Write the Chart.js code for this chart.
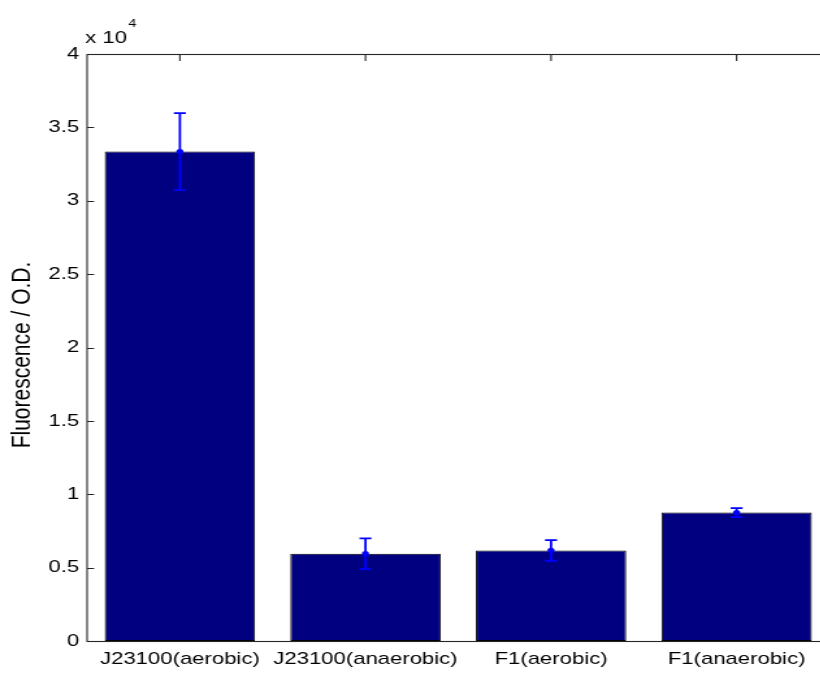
<!DOCTYPE html>
<html>
<head>
<meta charset="utf-8">
<script src="https://cdn.jsdelivr.net/npm/chart.js@4/dist/chart.umd.min.js"></script>
<style>
  html, body { margin: 0; padding: 0; background: #fff; overflow: hidden; }
  #wrap { position: relative; width: 820px; height: 673px; overflow: hidden; }
  /* the figure is rendered narrow and widened horizontally */
  #c { display: block; transform-origin: 0 0; transform: scaleX(1.3); }
</style>
</head>
<body>
<div id="wrap"><canvas id="c" width="647" height="673"></canvas></div>
<script>
// Strains / growth conditions
const categories = ['J23100(aerobic)', 'J23100(anaerobic)', 'F1(aerobic)', 'F1(anaerobic)'];
// Mean fluorescence normalised by optical density
const fluorescence = [33350, 5950, 6170, 8750];
// Standard deviation of each mean
const errors = [2620, 1050, 700, 310];
// Y axis ticks (shown in units of 10^4)
const yTicks = [0, 5000, 10000, 15000, 20000, 25000, 30000, 35000, 40000];

const FONT = 'Liberation Sans, Arial, Helvetica, sans-serif';
const AXIS_COLOR = '#262626';
const TICK_H = 5.4;   // length of ticks on the vertical axes
const TICK_V = 7;     // length of ticks on the horizontal axes

// Box frame and inward-pointing ticks, drawn beneath the bars
const framePlugin = {
  id: 'frame',
  beforeDatasetsDraw(chart) {
    const { ctx, chartArea: a, scales: { x, y } } = chart;
    ctx.save();
    ctx.strokeStyle = AXIS_COLOR;
    ctx.lineWidth = 1.1;
    ctx.beginPath();
    yTicks.forEach(v => {
      const py = Math.round(y.getPixelForValue(v)) + 0.5;
      ctx.moveTo(a.left, py); ctx.lineTo(a.left + TICK_H, py);
      ctx.moveTo(a.right, py); ctx.lineTo(a.right - TICK_H, py);
    });
    categories.forEach((c, i) => {
      const px = x.getPixelForValue(i);
      ctx.moveTo(px, a.top); ctx.lineTo(px, a.top + TICK_V);
      ctx.moveTo(px, a.bottom); ctx.lineTo(px, a.bottom - TICK_V);
    });
    ctx.stroke();
    ctx.restore();
  },
  afterDatasetsDraw(chart) {
    const { ctx, chartArea: a, scales: { x, y } } = chart;
    ctx.save();
    // outer box
    ctx.strokeStyle = AXIS_COLOR;
    ctx.lineWidth = 1.1;
    ctx.strokeRect(a.left, Math.round(a.top) + 0.5,
                   a.right - a.left, Math.round(a.bottom - a.top));

    // error bars
    ctx.strokeStyle = '#0000ff';
    ctx.fillStyle = '#0000ff';
    ctx.lineWidth = 1.8;
    const cap = 4.6;
    fluorescence.forEach((v, i) => {
      const px = x.getPixelForValue(i);
      const pm = y.getPixelForValue(v);
      const pt = y.getPixelForValue(v + errors[i]);
      const pb = y.getPixelForValue(v - errors[i]);
      ctx.beginPath();
      ctx.moveTo(px, pt); ctx.lineTo(px, pb);
      ctx.moveTo(px - cap, pt); ctx.lineTo(px + cap, pt);
      ctx.moveTo(px - cap, pb); ctx.lineTo(px + cap, pb);
      ctx.stroke();
      ctx.beginPath();
      ctx.arc(px, pm, 2.7, 0, Math.PI * 2);
      ctx.fill();
    });

    // exponent label above the y axis
    ctx.fillStyle = '#000';
    ctx.textBaseline = 'alphabetic';
    ctx.textAlign = 'left';
    ctx.font = '17px ' + FONT;
    ctx.fillText('x 10', a.left - 1.5, a.top - 11);
    const w = ctx.measureText('x 10').width;
    ctx.font = '11px ' + FONT;
    ctx.fillText('4', a.left - 1.5 + w + 1, a.top - 27);

    // y axis title
    ctx.font = '21px ' + FONT;
    ctx.textAlign = 'center';
    ctx.textBaseline = 'middle';
    ctx.translate(17, 355);
    ctx.rotate(-Math.PI / 2);
    ctx.fillText('Fluorescence / O.D.', 0, 0);
    ctx.restore();
  }
};

new Chart(document.getElementById('c'), {
  type: 'bar',
  data: {
    labels: categories,
    datasets: [{
      data: fluorescence,
      backgroundColor: '#000080',
      borderColor: '#000000',
      borderWidth: 1,
      borderSkipped: false,
      barPercentage: 0.81,
      categoryPercentage: 1.0
    }]
  },
  options: {
    responsive: false,
    animation: false,
    events: [],
    layout: { padding: { top: 54, right: 9, left: 0, bottom: 0 } },
    plugins: { legend: { display: false }, tooltip: { enabled: false } },
    scales: {
      x: {
        offset: true,
        grid: { display: false, drawTicks: false },
        border: { display: false },
        ticks: { color: '#000', font: { family: FONT, size: 17 }, padding: 8, maxRotation: 0, autoSkip: false },
        afterFit(s) { s.height = 32; }
      },
      y: {
        min: 0,
        max: 40000,
        grid: { display: false, drawTicks: false },
        border: { display: false },
        afterBuildTicks(s) { s.ticks = yTicks.map(v => ({ value: v })); },
        ticks: {
          color: '#000',
          font: { family: FONT, size: 17 },
          padding: 6,
          callback: v => String(v / 10000)
        },
        afterFit(s) { s.width = 67; }
      }
    }
  },
  plugins: [framePlugin]
});
</script>
</body>
</html>
